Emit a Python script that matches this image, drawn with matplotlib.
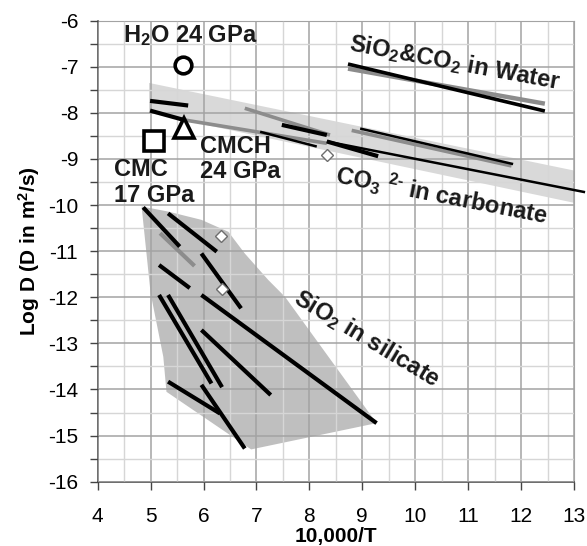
import matplotlib
matplotlib.use('Agg')
import matplotlib.pyplot as plt
from matplotlib.patches import Polygon
from matplotlib.ticker import MultipleLocator

plt.rcParams['font.family'] = ['Liberation Sans', 'DejaVu Sans']
plt.rcParams['mathtext.fontset'] = 'custom'
plt.rcParams['mathtext.rm'] = 'Liberation Sans:bold'
plt.rcParams['mathtext.it'] = 'Liberation Sans:bold'
plt.rcParams['mathtext.bf'] = 'Liberation Sans:bold'
plt.rcParams['axes.unicode_minus'] = False

# ---------------- data ----------------
xticks = [4, 5, 6, 7, 8, 9, 10, 11, 12, 13]
yticks = [-16, -15, -14, -13, -12, -11, -10, -9, -8, -7, -6]

# shaded regions
silicate_region_x = [4.83, 5.33, 5.96, 6.47, 6.78, 7.22, 7.54, 9.27, 6.90, 5.30, 5.24, 5.00]
silicate_region_y = [-10.03, -10.14, -10.32, -10.58, -11.05, -11.62, -11.99, -14.73, -15.30, -14.05, -13.29, -11.91]
carbonate_region_x = [4.97, 13.0, 13.0, 4.97]
carbonate_region_y = [-7.35, -9.25, -9.95, -8.00]

# line segments [x0, y0, x1, y1]
silicate_black = [
    [4.86, -10.05, 5.55, -10.90],
    [5.33, -10.18, 6.25, -11.01],
    [5.16, -11.30, 5.74, -11.80],
    [5.96, -11.05, 6.71, -12.24],
    [5.96, -11.95, 9.27, -14.73],
    [5.16, -11.95, 6.15, -13.87],
    [5.33, -11.95, 6.35, -13.95],
    [5.96, -12.71, 7.27, -14.12],
    [5.33, -13.83, 6.31, -14.52],
    [5.96, -13.90, 6.78, -15.28],
]
silicate_gray = [
    [5.18, -10.61, 5.83, -11.32],
]
carbonate_black_thick = [
    [4.99, -7.74, 5.71, -7.84],
    [4.99, -7.95, 5.62, -8.15],
    [7.48, -8.26, 8.33, -8.48],
    [8.33, -8.62, 9.30, -8.94],
]
carbonate_black_thin = [
    [7.07, -8.41, 8.14, -8.73],
    [8.96, -8.34, 11.85, -9.11],
    [8.33, -8.62, 13.21, -9.72],
]
carbonate_gray = [
    [5.62, -8.15, 8.33, -8.66],
    [6.78, -7.90, 8.39, -8.48],
    [8.80, -8.38, 11.82, -9.15],
]
water_black = [
    [8.73, -6.94, 12.45, -7.96],
]
water_gray = [
    [8.73, -7.04, 12.45, -7.80],
]

# experimental points
h2o_x, h2o_y = [5.61], [-6.96]
cmch_x, cmch_y = [5.64], [-8.33]
cmc_x, cmc_y = [5.07], [-8.61]
diamond_x = [6.33, 6.34, 8.33]
diamond_y = [-10.68, -11.82, -8.91]

# ---------------- figure ----------------
fig = plt.figure(figsize=(5.87, 5.46), dpi=100)
ax = fig.add_axes([0.1664, 0.1178, 0.8114, 0.8443])
ax.set_xlim(4, 13)
ax.set_ylim(-16, -6)

ax.add_patch(Polygon(list(zip(carbonate_region_x, carbonate_region_y)),
                     closed=True, facecolor='#d9d9d9', edgecolor='none', zorder=1))
ax.add_patch(Polygon(list(zip(silicate_region_x, silicate_region_y)),
                     closed=True, facecolor='#bfbfbf', edgecolor='none', zorder=1))


def draw(segs, color, lw, z=3, clip=True):
    for x0, y0, x1, y1 in segs:
        ax.plot([x0, x1], [y0, y1], color=color, lw=lw, solid_capstyle='butt',
                zorder=z, clip_on=clip)


draw(silicate_gray, '#8c8c8c', 3.0)
draw(silicate_black, 'black', 3.0, z=4)
draw(carbonate_gray, '#8c8c8c', 2.6)
draw(carbonate_black_thick, 'black', 3.0, z=4)
draw(carbonate_black_thin, 'black', 1.8, z=4, clip=False)
draw(water_gray, '#8c8c8c', 3.2)
draw(water_black, 'black', 2.6, z=4)

ax.plot(h2o_x, h2o_y, 'o', ms=12, mfc='white', mec='black', mew=2.6, zorder=6)
ax.plot(cmch_x, cmch_y, '^', ms=15, mfc='white', mec='black', mew=2.6, zorder=6)
ax.plot(cmc_x, cmc_y, 's', ms=15, mfc='white', mec='black', mew=2.6, zorder=6)
ax.plot(diamond_x, diamond_y, 'D', ms=6.5, mfc='white', mec='#6e6e6e', mew=1.0, zorder=6)

# texts
tk = dict(fontsize=17, fontweight='bold', color='#1a1a1a', zorder=7)
ax.text(5.74, -6.33, r'H$_2$O 24 GPa', ha='center', va='center', **tk)
ax.text(5.94, -9.0, 'CMCH\n24 GPa', ha='left', va='center', linespacing=1.15, **tk)
ax.text(4.30, -9.51, 'CMC\n17 GPa', ha='left', va='center', linespacing=1.15, **tk)
ax.text(10.75, -6.92, r'SiO$_2$&CO$_2$ in Water', ha='center', va='center',
        rotation=-10.5, rotation_mode='anchor', **tk)
ax.text(10.5, -9.78, r'CO$_3$ $^{2\text{-}}$ in carbonate', ha='center', va='center',
        rotation=-11, rotation_mode='anchor', **tk)
ax.text(9.08, -12.89, r'SiO$_2$ in silicate', ha='center', va='center',
        rotation=-31, rotation_mode='anchor', **tk)

# axes styling
ax.set_xticks(xticks)
ax.set_yticks(yticks)
ax.xaxis.set_minor_locator(MultipleLocator(0.5))
ax.yaxis.set_minor_locator(MultipleLocator(0.5))
ax.grid(which='major', color='#a3a3a3', lw=1.1, zorder=2)
ax.grid(which='minor', color='#d6d6d6', lw=1.0, zorder=2)
ax.set_axisbelow(False)
for gl in ax.get_xgridlines() + ax.get_ygridlines():
    gl.set_zorder(2)

ax.tick_params(axis='both', which='major', direction='out', length=6, width=1.0,
               color='#444444', labelsize=15)
ax.tick_params(axis='x', which='major', pad=12)
ax.tick_params(axis='y', which='major', pad=8)
ax.tick_params(axis='y', which='minor', direction='out', length=6, width=1.0, color='#444444')
ax.tick_params(axis='x', which='minor', length=0)

for s in ['top', 'right']:
    ax.spines[s].set_color('#a3a3a3')
for s in ['left', 'bottom']:
    ax.spines[s].set_color('#444444')
    ax.spines[s].set_linewidth(1.1)

ax.set_xlabel('10,000/T', fontsize=15, fontweight='bold')
ax.xaxis.set_label_coords(0.5, -0.098)
ax.set_ylabel(r'Log D (D in m$^2$/s)', fontsize=15, fontweight='bold')
ax.yaxis.set_label_coords(-0.117, 0.5)

fig.savefig('out.png', dpi=100)
